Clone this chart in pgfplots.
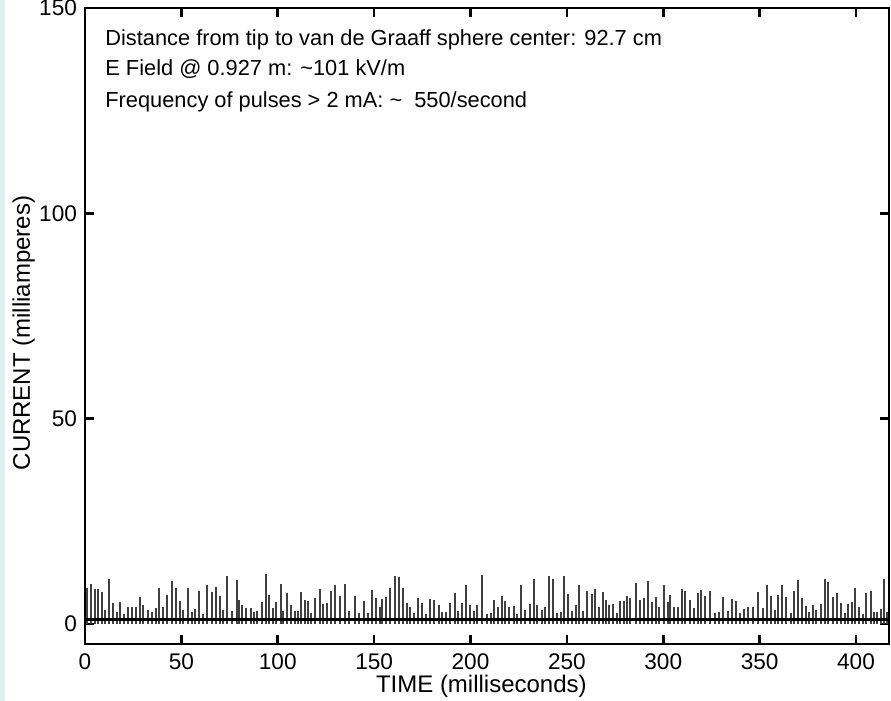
\documentclass[border=0pt]{standalone}
\usepackage{pgfplots}
\pgfplotsset{compat=1.18}
\usepackage{fontspec}
\setmainfont{Liberation Sans}
\definecolor{edgecyan}{RGB}{222,242,242}
\pgfplotstableread{
x y
1.2 8.7
3.1 9.7
5.2 8.4
6.9 8.4
8.8 7.7
10.4 3.4
12.6 11.0
14.5 5.1
16.4 2.9
18.1 5.4
20.2 2.4
22.1 4.2
24.2 4.2
26.3 4.2
28.5 6.6
30.2 4.7
32.5 3.4
34.9 2.8
36.6 3.8
38.5 8.7
40.6 4.2
42.3 7.1
45.2 10.5
47.2 8.7
49.2 5.6
50.9 3.3
53.5 8.7
55.3 3.0
57.0 3.6
59.1 7.9
61.0 2.4
63.4 9.5
66.0 7.7
68.2 9.1
69.9 6.7
71.7 3.4
73.9 11.6
76.3 3.2
78.6 10.7
80.0 5.9
81.2 4.7
83.4 3.8
85.9 3.8
87.7 3.0
89.3 3.2
91.9 5.3
94.1 12.1
95.5 7.1
97.6 3.8
99.0 5.3
101.6 9.7
102.7 3.2
105.0 7.5
107.1 4.5
108.8 3.2
110.5 3.2
112.3 7.7
114.0 5.9
115.7 5.6
117.5 2.6
119.2 6.4
121.8 8.4
123.5 4.8
125.6 5.2
127.8 8.1
129.9 9.5
132.5 6.7
134.7 9.7
136.8 3.2
139.9 6.8
142.0 2.6
144.7 5.6
146.8 2.6
148.9 8.3
150.8 6.4
152.8 4.2
154.2 6.1
156.3 6.5
158.0 8.7
160.6 11.7
162.9 11.3
164.9 8.7
167.0 5.2
168.4 4.2
170.6 2.6
172.7 6.4
174.8 5.2
177.0 2.4
179.1 6.0
181.3 5.8
183.4 4.5
185.3 2.8
187.4 2.8
189.6 5.1
192.1 7.5
193.4 3.2
195.5 5.2
197.4 9.4
199.8 4.7
201.6 3.2
203.5 4.7
206.1 12.0
208.6 2.4
210.4 2.6
212.1 5.9
214.1 4.2
216.2 6.9
218.0 5.5
219.8 4.2
222.3 4.4
224.2 2.4
226.3 9.5
228.3 3.4
230.9 4.8
232.8 11.0
234.6 4.7
237.1 3.4
238.7 4.2
240.9 11.7
242.6 11.0
244.7 2.6
247.0 2.9
248.7 11.6
250.8 7.3
252.7 3.2
254.8 4.5
256.5 9.5
258.5 3.2
260.4 7.9
263.0 7.3
264.6 8.4
266.8 4.2
268.6 7.7
270.3 5.9
272.0 4.7
274.1 4.8
276.0 2.6
277.7 5.6
279.8 5.5
281.2 6.7
282.9 6.4
285.9 9.9
288.0 5.9
289.8 6.3
291.9 10.5
293.9 5.3
296.2 6.5
297.9 4.0
300.2 9.5
302.2 5.3
303.6 7.1
305.7 4.1
307.4 4.0
309.5 8.4
311.2 7.9
314.0 5.9
316.1 3.8
317.8 7.5
319.5 8.3
321.8 6.7
324.4 7.9
326.8 2.6
328.7 2.8
331.1 6.5
333.7 3.2
335.9 6.0
337.7 5.5
339.7 2.6
342.0 3.6
344.0 4.2
346.6 4.0
349.4 7.7
351.5 3.8
353.7 9.4
355.8 6.8
357.9 3.4
359.7 7.1
361.5 9.4
363.6 6.5
366.2 2.6
367.9 7.9
370.1 10.7
372.2 6.3
373.9 4.4
375.6 2.8
377.7 4.7
379.4 3.4
381.7 4.9
383.9 10.9
385.7 10.3
388.1 6.5
390.3 7.5
392.1 5.1
394.3 2.6
396.0 4.8
398.1 5.3
399.5 8.7
401.6 4.0
403.6 2.4
405.4 7.5
407.6 7.9
409.3 2.8
411.1 3.0
412.8 3.6
414.5 10.9
416.2 3.0
}\pulses
\begin{document}
\begin{tikzpicture}
\useasboundingbox (-42.5pt,-28.5pt) rectangle (403pt,322pt);
\fill[edgecyan] (-42.5pt,-28.5pt) rectangle (-40pt,322pt);
\begin{axis}[
  scale only axis, width=402pt, height=318pt,
  xmin=0, xmax=417.1, ymin=-4.9, ymax=150,
  xtick={0,50,...,400}, ytick={0,50,100,150},
  minor tick num=0,
  tick align=inside, major tick length=4.5pt,
  tick style={line width=1.3pt, black},
  axis line style={line width=1.4pt},
  ticklabel style={font=\fontsize{11.3}{13}\selectfont},
  /pgf/number format/assume math mode=true,
  xticklabel style={yshift=-1.5pt},
  yticklabel style={xshift=-0.5pt},
  xlabel={TIME (milliseconds)}, ylabel={CURRENT (milliamperes)},
  label style={font=\fontsize{12}{14}\selectfont},
  xlabel style={at={(axis description cs:0.493,-0.0755)}, anchor=base},
  ylabel style={at={(axis description cs:-0.0684,0.489)}, anchor=base},
  clip=true,
]
\addplot[ycomb, black!75, line width=1pt, no marks] table[x=x,y=y] {\pulses};
\addplot[black, line width=1.4pt, no marks] coordinates {(0,1.1) (417.1,1.1)};
\node[anchor=base west, inner sep=0pt, font=\fontsize{10.9}{13}\selectfont] at (rel axis cs:0.0249,0.9418) {Distance from tip to van de Graaff sphere center: 92.7 cm};
\node[anchor=base west, inner sep=0pt, font=\fontsize{10.9}{13}\selectfont] at (rel axis cs:0.0249,0.8931) {E Field @ 0.927 m: \textasciitilde101 kV/m};
\node[anchor=base west, inner sep=0pt, font=\fontsize{10.9}{13}\selectfont] at (rel axis cs:0.0249,0.8428) {Frequency of pulses > 2 mA: \textasciitilde\ \ 550/second};
\end{axis}
\end{tikzpicture}
\end{document}
